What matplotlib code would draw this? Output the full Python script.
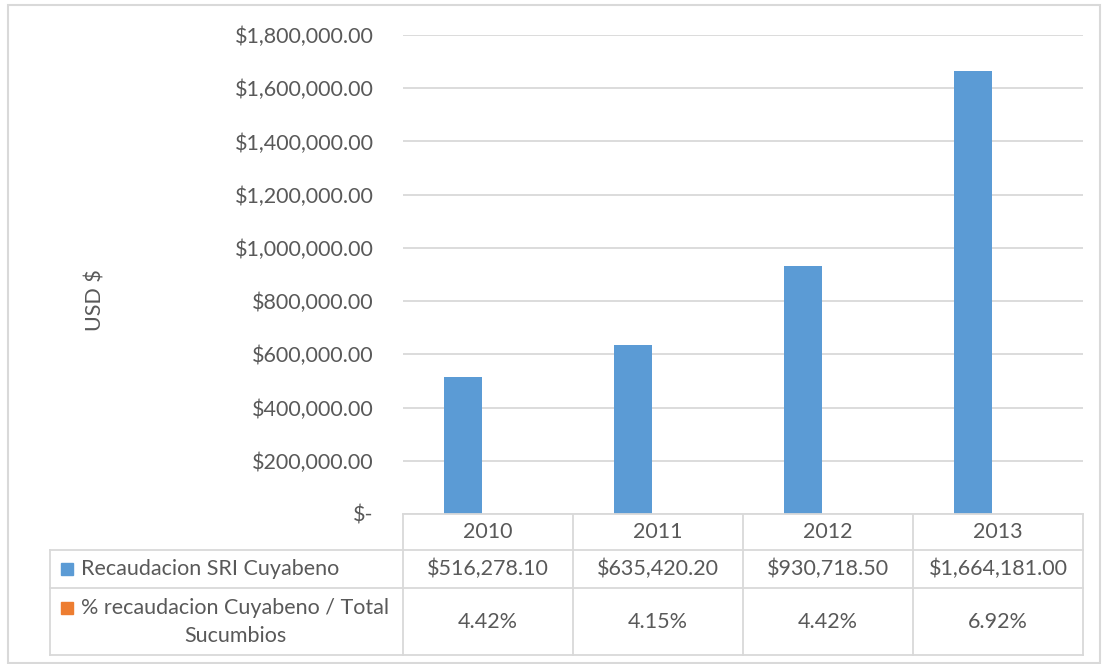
import matplotlib
matplotlib.use("Agg")
import matplotlib.pyplot as plt
from matplotlib.lines import Line2D
from matplotlib.patches import Rectangle
import numpy as np

# Datos
anios = ["2010", "2011", "2012", "2013"]
recaudacion = [516278.10, 635420.20, 930718.50, 1664181.00]
porcentaje = [0.0442, 0.0415, 0.0442, 0.0692]
serie_rec = "Recaudacion SRI Cuyabeno"
serie_pct = "% recaudacion Cuyabeno / Total\nSucumbios"
eje_y = [0, 200000, 400000, 600000, 800000, 1000000, 1200000, 1400000, 1600000, 1800000]

AZUL = "#5b9bd5"
NARANJA = "#ed7d31"
GRIS_TEXTO = "#595959"
GRIS_LINEA = "#d9d9d9"

W, H = 1102, 664
TAM = 15.5


def fx(px):
    return px / W


def fy(py):
    return 1 - py / H


def linea(x0, y0, x1, y1):
    fig.add_artist(Line2D([fx(x0), fx(x1)], [fy(y0), fy(y1)], color=GRIS_LINEA,
                          lw=1.3, transform=fig.transFigure))


def moneda(v):
    return "$-" if v == 0 else f"${v:,.2f}"


plt.rcParams["font.family"] = ["Lato", "DejaVu Sans"]
fig = plt.figure(figsize=(W / 100, H / 100), dpi=100)

ax = fig.add_axes([fx(403), fy(514), fx(1083) - fx(403), fy(35) - fy(514)])
x = np.arange(len(anios))
ancho = 0.224
ax.bar(x - 0.147, recaudacion, ancho, color=AZUL, zorder=3)
ax.bar(x + 0.147, porcentaje, ancho, color=NARANJA, zorder=3)
ax.set_xlim(-0.5, len(anios) - 0.5)
ax.set_ylim(0, eje_y[-1])
ax.set_yticks(eje_y)
ax.set_yticklabels([moneda(v) for v in eje_y])
ax.set_xticks([])
ax.yaxis.grid(True, color=GRIS_LINEA, lw=1.3)
ax.set_axisbelow(True)
for s in ax.spines.values():
    s.set_visible(False)
ax.tick_params(axis="y", length=0, pad=21, labelsize=TAM, labelcolor=GRIS_TEXTO)

fig.text(fx(95), fy(300), "USD $", rotation=90, ha="center", va="center",
         fontsize=TAM, color=GRIS_TEXTO)

# Tabla de datos
cols = [403, 573, 743, 913, 1083]
linea(403, 514, 1083, 514)
for yy in (550, 588, 655):
    linea(50, yy, 1083, yy)
linea(50, 550, 50, 655)
for cx in cols:
    linea(cx, 514, cx, 655)

for i, anio in enumerate(anios):
    xc = (cols[i] + cols[i + 1]) / 2
    fig.text(fx(xc), fy(532), anio, ha="center", va="center", fontsize=TAM, color=GRIS_TEXTO)
    fig.text(fx(xc), fy(569), f"${recaudacion[i]:,.2f}", ha="center", va="center",
             fontsize=TAM, color=GRIS_TEXTO)
    fig.text(fx(xc), fy(622), f"{porcentaje[i] * 100:.2f}%", ha="center", va="center",
             fontsize=TAM, color=GRIS_TEXTO)

fig.add_artist(Rectangle((fx(61), fy(575)), fx(12), 12 / H, color=AZUL,
                         transform=fig.transFigure))
fig.text(fx(81), fy(569), serie_rec, ha="left", va="center", fontsize=TAM, color=GRIS_TEXTO)
fig.add_artist(Rectangle((fx(61), fy(614)), fx(12), 12 / H, color=NARANJA,
                         transform=fig.transFigure))
fig.text(fx(81), fy(622), serie_pct, ha="left", va="center", fontsize=TAM,
         color=GRIS_TEXTO, multialignment="center", linespacing=1.5)

# Marco del grafico
fig.add_artist(Rectangle((fx(8), fy(663)), fx(1092), 658 / H, fill=False,
                         edgecolor=GRIS_LINEA, lw=1.5, transform=fig.transFigure))

fig.savefig("out.png", dpi=100)
